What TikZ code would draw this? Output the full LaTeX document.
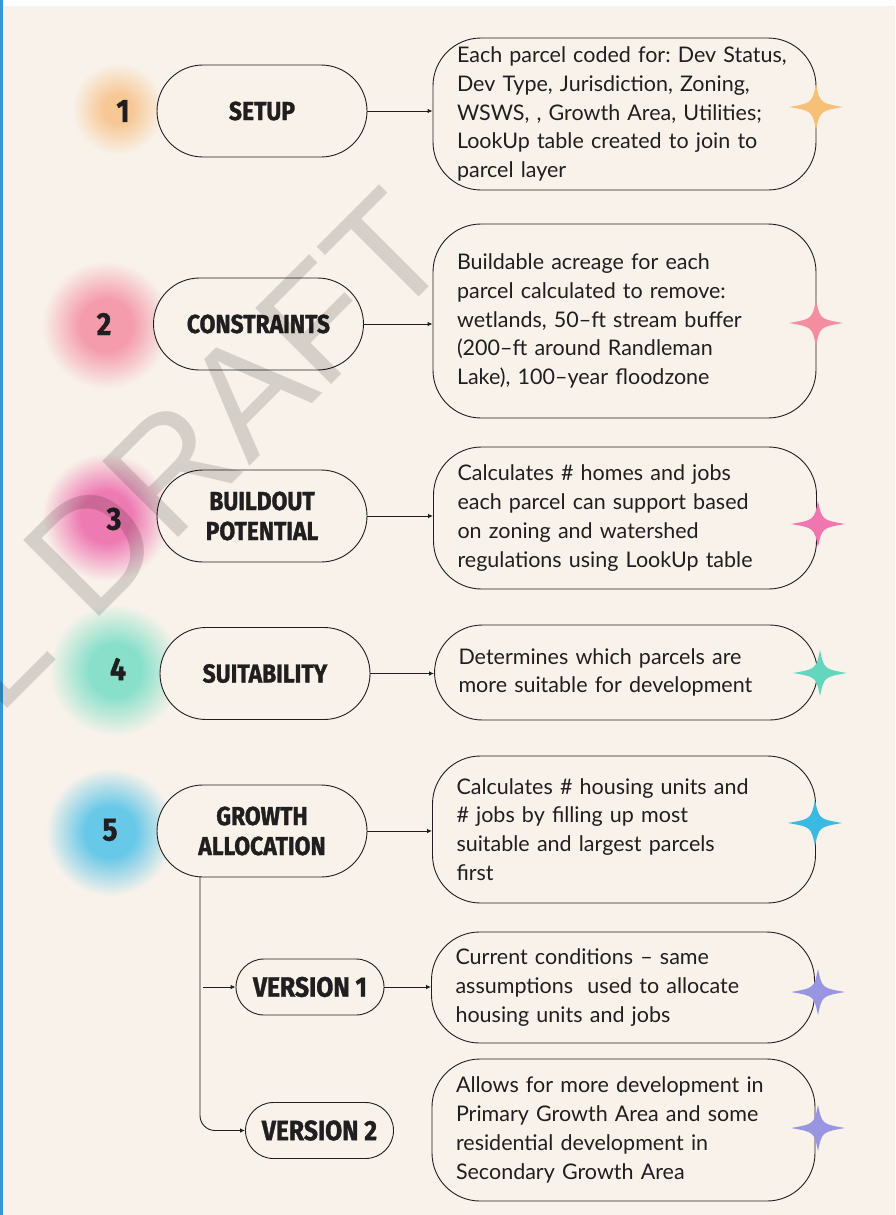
\documentclass[tikz,border=0pt]{standalone}
\usepackage{xcolor}
\usepackage{fontspec}
\usepackage{tikz}
\usetikzlibrary{arrows.meta}
\setmainfont{Lato}
\newfontfamily\pillfont{Fira Sans}[FakeStretch=0.88, BoldFeatures={FakeBold=1.2}]
\newfontfamily\markfont{Liberation Sans}
\definecolor{paper}{RGB}{248,242,234}
\definecolor{ink}{RGB}{32,30,30}
\definecolor{rim}{RGB}{59,150,208}
\definecolor{cOrange}{RGB}{246,192,118}
\definecolor{cRed}{RGB}{243,141,160}
\definecolor{cPink}{RGB}{240,118,176}
\definecolor{cTeal}{RGB}{98,215,190}
\definecolor{cBlue}{RGB}{58,185,227}
\definecolor{cLilac}{RGB}{152,150,226}
\definecolor{hOrange}{RGB}{247,200,150}
\definecolor{hRed}{RGB}{244,155,172}
\definecolor{hPink}{RGB}{238,122,178}
\definecolor{hTeal}{RGB}{136,224,202}
\definecolor{hBlue}{RGB}{104,200,232}
\pgfdeclareradialshading{glowOrange}{\pgfpointorigin}{color(0bp)=(hOrange); color(8bp)=(hOrange); color(25bp)=(paper); color(50bp)=(paper)}
\pgfdeclareradialshading{glowRed}{\pgfpointorigin}{color(0bp)=(hRed); color(10bp)=(hRed); color(25bp)=(paper); color(50bp)=(paper)}
\pgfdeclareradialshading{glowPink}{\pgfpointorigin}{color(0bp)=(hPink); color(10bp)=(hPink); color(25bp)=(paper); color(50bp)=(paper)}
\pgfdeclareradialshading{glowTeal}{\pgfpointorigin}{color(0bp)=(hTeal); color(10bp)=(hTeal); color(25bp)=(paper); color(50bp)=(paper)}
\pgfdeclareradialshading{glowBlue}{\pgfpointorigin}{color(0bp)=(hBlue); color(10bp)=(hBlue); color(25bp)=(paper); color(50bp)=(paper)}

\begin{document}
\begin{tikzpicture}[x=1pt, y=-1pt,
		every node/.style={font=\pillfont\bfseries\fontsize{26}{30}\selectfont, text=ink},
		stage/.style={draw=ink, line width=0.9pt, fill=paper, rounded corners=46pt, minimum width=210pt, minimum height=92pt, align=center, inner sep=0pt},
		version/.style={stage, rounded corners=28pt, minimum width=148pt, minimum height=56pt, font=\pillfont\bfseries\fontsize{28}{30}\selectfont},
		note/.style={draw=ink, line width=0.9pt, rounded corners=48pt, text width=335pt, inner xsep=24pt, inner ysep=0pt, align=left, font=\fontsize{21.5}{28.8}\selectfont\frenchspacing},
		num/.style={font=\pillfont\bfseries\fontsize{32}{32}\selectfont},
		link/.style={draw=ink, line width=0.9pt, -{Latex[length=5pt,width=4.5pt]}},
		sparkle/.pic={\path[pic actions] (27,0) .. controls (4,-4) .. (0,-23) .. controls (-4,-4) .. (-27,0) .. controls (-4,4) .. (0,23) .. controls (4,4) .. cycle;}]
		\useasboundingbox (0,0) rectangle (895,1215);
		\clip (0,0) rectangle (895,1215);
		\fill[paper] (0,0) rectangle (895,1215);
		\fill[white] (0,0) rectangle (895,6);
		\fill[rim] (0,0) rectangle (3,1215);
		\shade[shading=glowOrange] (118,109) circle (46);
		\shade[shading=glowRed] (106,325) circle (64);
		\shade[shading=glowPink] (106,517) circle (64);
		\shade[shading=glowTeal] (115,670) circle (66);
		\shade[shading=glowBlue] (110,832) circle (64);
		\node[num] (n1) at (123,111) {1};
		\node[num] (n2) at (104,324) {2};
		\node[num] (n3) at (114,519) {3};
		\node[num] (n4) at (118,669) {4};
		\node[num] (n5) at (110,830) {5};
		\node[stage] (setup) at (262,111) {SETUP};
		\node[stage] (constraints) at (258.5,324) {CONSTRAINTS};
		\node[stage] (buildout) at (262,516) {BUILDOUT\\POTENTIAL};
		\node[stage] (suitability) at (265,673.5) {SUITABILITY};
		\node[stage] (growth) at (262,831) {GROWTH\\ALLOCATION};
		\node[version] (ver1) at (310,987) {VERSION 1};
		\node[version] (ver2) at (319.5,1130.5) {VERSION 2};
		\node[note, minimum height=152pt] (note1) at (624.5,114) {Each parcel coded for: Dev Status,\\Dev Type, Jurisdiction, Zoning,\\WSWS, , Growth Area, Utilities;\\LookUp table created to join to\\parcel layer};
		\node[note, minimum height=194pt] (note2) at (624.5,321) {Buildable acreage for each\\parcel calculated to remove:\\wetlands, 50--ft stream buffer\\(200--ft around Randleman\\Lake), 100--year floodzone};
		\node[note, minimum height=142pt] (note3) at (625,518) {Calculates \# homes and jobs\\each parcel can support based\\on zoning and watershed\\regulations using LookUp table};
		\node[note, minimum height=95pt] (note4) at (626,672.5) {Determines which parcels are\\more suitable for development};
		\node[note, minimum height=147pt] (note5) at (624,829.5) {Calculates \# housing units and\\\# jobs by filling up most\\suitable and largest parcels\\first};
		\node[note, minimum height=111pt] (note6) at (623,987.5) {Current conditions -- same\\assumptions~ used to allocate\\housing units and jobs};
		\node[note, minimum height=142pt] (note7) at (623.5,1130) {Allows for more development in\\Primary Growth Area and some\\residential development in\\Secondary Growth Area};
		\draw[link] (setup.east) -- (setup.east -| note1.west);
		\draw[link] (constraints.east) -- (constraints.east -| note2.west);
		\draw[link] (buildout.east) -- (buildout.east -| note3.west);
		\draw[link] (suitability.east) -- (suitability.east -| note4.west);
		\draw[link] (growth.east) -- (growth.east -| note5.west);
		\draw[link] (ver1.east) -- (ver1.east -| note6.west);
		\coordinate (trunk) at (200,876);
		\draw[link, rounded corners=15pt] (trunk) |- (ver2.west);
		\draw[link] (ver1.west -| 203,0) -- (ver1.west);
		\pic[fill=cOrange] at (816,107) {sparkle};
		\pic[fill=cRed] at (816,323) {sparkle};
		\pic[fill=cPink] at (818,524) {sparkle};
		\pic[fill=cTeal] at (820,673) {sparkle};
		\pic[fill=cBlue] at (815,823) {sparkle};
		\pic[fill=cLilac] at (818,992) {sparkle};
		\pic[fill=cLilac] at (818,1128) {sparkle};
		\node[font=\markfont\fontsize{156}{156}\selectfont, text=black, text opacity=0.14, rotate=45, anchor=base west, inner sep=0pt] (mark) at (-2,718) {L DRAFT};
	\end{tikzpicture}
\end{document}
